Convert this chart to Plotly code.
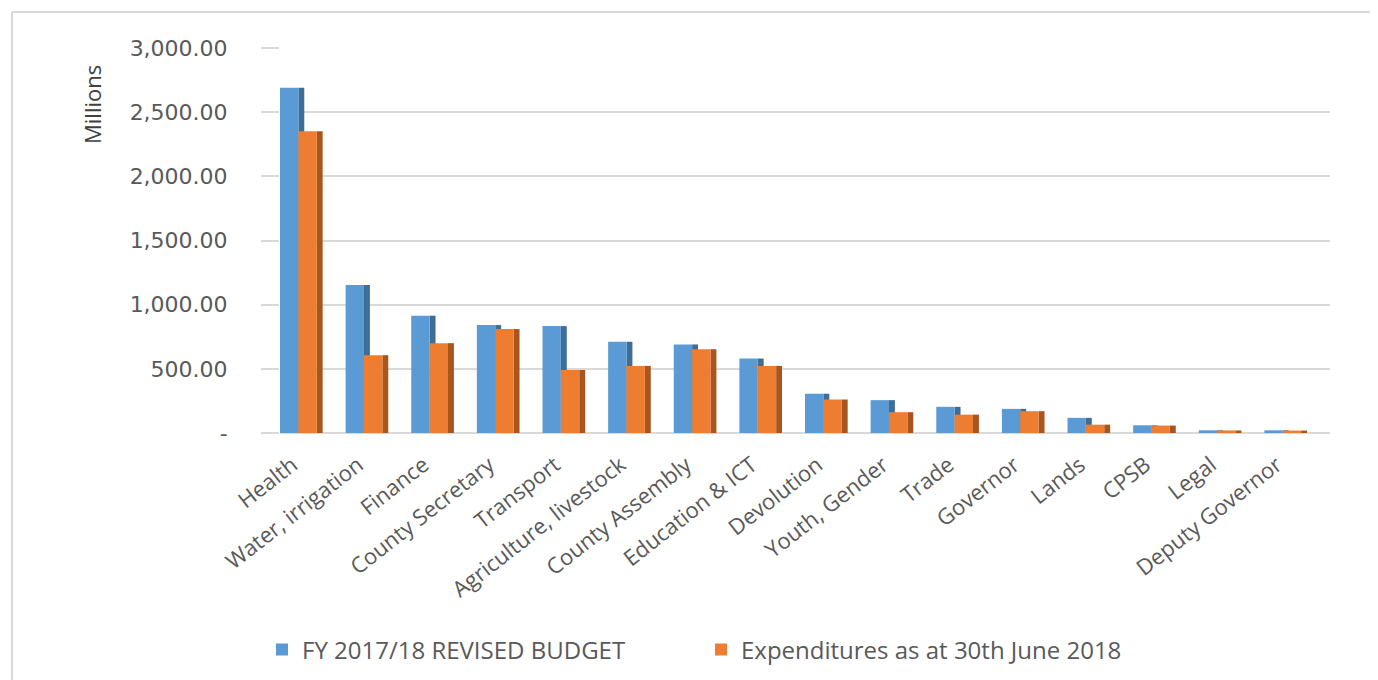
import plotly.graph_objects as go

categories = ["Health", "Water, irrigation", "Finance", "County Secretary", "Transport",
              "Agriculture, livestock", "County Assembly", "Education & ICT", "Devolution",
              "Youth, Gender", "Trade", "Governor", "Lands", "CPSB", "Legal", "Deputy Governor"]
budget = [2690, 1154, 914, 841, 833, 711, 690, 580, 306, 256, 204, 188, 118, 60, 21, 21]
expenditure = [2351, 606, 700, 810, 491, 523, 653, 523, 261, 162, 143, 170, 65, 58, 20, 19]

y_tickvals = [0, 500, 1000, 1500, 2000, 2500, 3000]
y_ticktext = ["-", "500.00", "1,000.00", "1,500.00", "2,000.00", "2,500.00", "3,000.00"]

name_budget = "FY 2017/18 REVISED BUDGET"
name_exp = "Expenditures as at 30th June 2018"

BLUE = "#5B9BD5"
BLUE_D = "#3E6D98"
ORANGE = "#ED7D31"
ORANGE_D = "#A9551E"

W = 0.28   # bar width in category units
D = 0.09   # side depth

# page body has an 8px margin; plot box on screen: x 280..1330, y 48..433
L, T = 272, 40
PW, PH = 1050, 385
B = 680 - T - PH

def px(xs):
    return (xs - 280) / PW

def py(ys):
    return (433 - ys) / PH

fig = go.Figure()
fig.add_trace(go.Bar(x=categories, y=budget, offset=0, width=D, marker=dict(color=BLUE_D, line=dict(width=0)),
                     showlegend=False, hoverinfo="skip"))
fig.add_trace(go.Bar(x=categories, y=budget, offset=-W, width=W, name=name_budget,
                     marker=dict(color=BLUE, line=dict(width=0))))
fig.add_trace(go.Bar(x=categories, y=expenditure, offset=W, width=D, marker=dict(color=ORANGE_D, line=dict(width=0)),
                     showlegend=False, hoverinfo="skip"))
fig.add_trace(go.Bar(x=categories, y=expenditure, offset=0, width=W, name=name_exp,
                     marker=dict(color=ORANGE, line=dict(width=0))))

fig.update_layout(
    width=1378, height=680,
    barmode="overlay",
    paper_bgcolor="white", plot_bgcolor="white",
    margin=dict(l=L, r=1378 - L - PW, t=T, b=B),
    font=dict(family="Open Sans", color="#595959"),
    xaxis=dict(
        range=[-W, 16 - W],
        tickangle=-38,
        tickfont=dict(family="Open Sans", size=22, color="#595959"),
        showgrid=False, showline=False, zeroline=False, ticks="",
        ticklabelstandoff=14, ticklabelshift=-6,
        automargin=False,
    ),
    yaxis=dict(
        range=[0, 3000],
        tickvals=y_tickvals, ticktext=y_ticktext,
        tickfont=dict(family="DejaVu Sans", size=22, color="#595959"),
        showgrid=True, gridcolor="#D9D9D9", gridwidth=2,
        zeroline=True, zerolinecolor="#D9D9D9", zerolinewidth=2,
        ticks="outside", ticklen=18, tickcolor="#D9D9D9", tickwidth=2,
        ticklabelstandoff=29,
        automargin=False,
    ),
    legend=dict(
        orientation="h", x=px(262), xanchor="left", y=py(650), yanchor="middle",
        font=dict(family="Open Sans", size=24, color="#595959"),
        entrywidth=394, entrywidthmode="pixels",
        traceorder="normal",
    ),
    showlegend=True,
    annotations=[dict(
        text="Millions", xref="paper", yref="paper",
        x=px(92), y=py(105),
        xanchor="center", yanchor="middle", textangle=-90, showarrow=False,
        font=dict(family="Open Sans", size=22, color="#404040"),
    )],
    shapes=[
        dict(type="line", xref="paper", yref="paper",
             x0=px(12), x1=px(1400), y0=py(12), y1=py(12),
             line=dict(color="#D9D9D9", width=2)),
        dict(type="line", xref="paper", yref="paper",
             x0=px(12), x1=px(12), y0=py(12), y1=py(700),
             line=dict(color="#D9D9D9", width=2)),
    ],
)

fig.write_html("out.html")
